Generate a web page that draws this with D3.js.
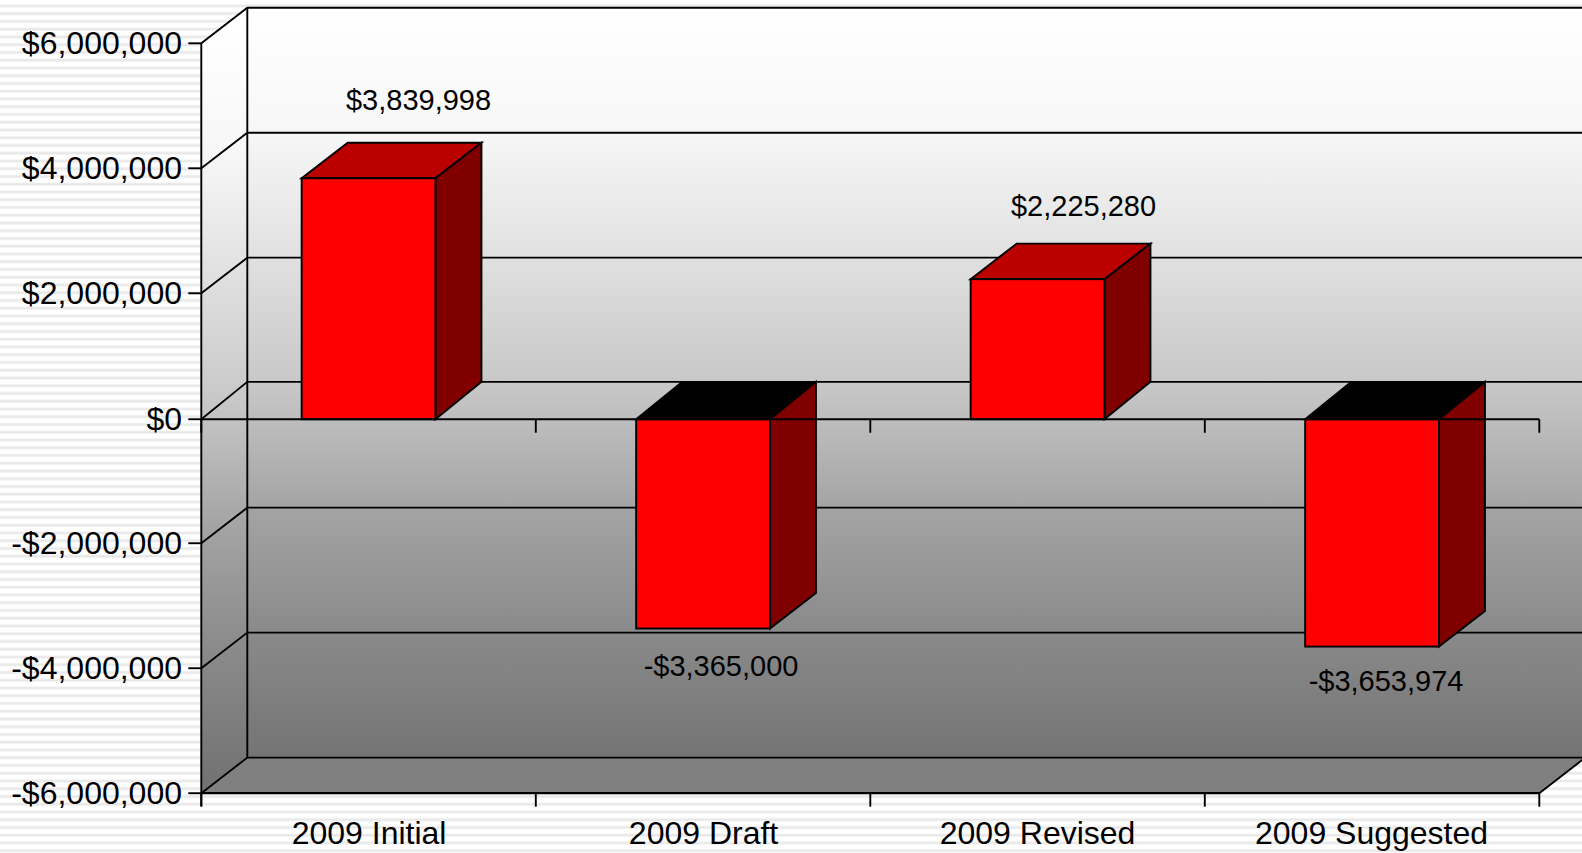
<!DOCTYPE html>
<html><head><meta charset="utf-8">
<style>html,body{margin:0;padding:0;background:#fff;overflow:hidden}svg{display:block}
text{font-family:"Liberation Sans",Arial,sans-serif;fill:#000}</style>
<script src="https://cdn.jsdelivr.net/npm/d3@7"></script></head><body><svg id="c" width="1582" height="853"></svg>
<script>
const categories = ["2009 Initial","2009 Draft","2009 Revised","2009 Suggested"];
const values = [3839998,-3365000,2225280,-3653974];
const valueLabels = ["$3,839,998","-$3,365,000","$2,225,280","-$3,653,974"];
const yTicks = [6000000,4000000,2000000,0,-2000000,-4000000,-6000000];

const W=1582,H=853, dx=46, dy=35.6;
const svg=d3.select("#c");
const y=d3.scaleLinear().domain([-6000000,6000000]).range([793.2,43.3]);
const x=d3.scaleBand().domain(categories).range([201.3,1539.3]).paddingInner(.6).paddingOuter(.3);
const fmt=v=>(v<0?"-":"")+"$"+d3.format(",")(Math.abs(v));
const yFront=v=>v===0?y(0)+1:y(v);
const yBack=v=>v===0?y(0)-dy-0.8:y(v)-dy;
const defs=svg.append("defs");
const pat=defs.append("pattern").attr("id","st").attr("patternUnits","userSpaceOnUse").attr("width",8).attr("height",7.75);
pat.append("rect").attr("width",8).attr("height",7.75).attr("fill","#fff");
pat.append("rect").attr("y",4).attr("width",8).attr("height",4).attr("fill","#f7f7f7");
pat.append("rect").attr("y",5).attr("width",8).attr("height",2).attr("fill","#e8e8e8");
const stops=[[0,"#ffffff"],[.167,"#f7f7f7"],[.333,"#e0e0e0"],[.5,"#c8c8c8"],[.667,"#a4a4a4"],[.833,"#8a8a8a"],[1,"#747474"]];
const grad=(id,y1,y2)=>{const g=defs.append("linearGradient").attr("id",id).attr("gradientUnits","userSpaceOnUse").attr("x1",0).attr("x2",0).attr("y1",y1).attr("y2",y2);
 stops.forEach(s=>g.append("stop").attr("offset",s[0]).attr("stop-color",s[1]));};
grad("wall",y(6e6)-dy,y(-6e6)-dy);
grad("side",y(6e6)-dy/2,y(-6e6)-dy/2);
svg.append("rect").attr("width",W).attr("height",H).attr("fill","url(#st)");
const line=d3.line();
const stroke=(s,w=1.9)=>s.attr("stroke","#000").attr("stroke-width",w);
const x0=x.range()[0],x1=x.range()[1],yT=y(6e6),yB=y(-6e6);
// walls
svg.append("path").attr("d",line([[x0,yT],[x0+dx,yT-dy],[x0+dx,yB-dy],[x0,yB]])+"Z").attr("fill","url(#side)");
svg.append("rect").attr("x",x0+dx).attr("y",yT-dy).attr("width",W-x0-dx).attr("height",yB-yT).attr("fill","url(#wall)");
svg.append("path").attr("d",line([[x0,yB],[x0+dx,yB-dy],[x1+dx,yB-dy],[x1,yB]])+"Z").attr("fill","#808080");
// grid
yTicks.forEach(t=>{
 stroke(svg.append("path").attr("fill","none").attr("d",line([[x0,yFront(t)],[x0+dx,yBack(t)],[W,yBack(t)]])));
});
stroke(svg.append("path").attr("fill","none").attr("d",line([[x0+dx,yT-dy],[x0+dx,yB-dy]])));
stroke(svg.append("path").attr("fill","none").attr("d",line([[x1,yB],[x1+dx,yB-dy]])));
// bars
categories.forEach((c,i)=>{
 const v=values[i],l=x(c),r=l+x.bandwidth();
 const hi=Math.max(v,0),lo=Math.min(v,0);
 const t=yFront(hi),b=yFront(lo),tb=yBack(hi),bb=yBack(lo);
 const g=svg.append("g");
 stroke(g.append("path").attr("fill",v>=0?"#bb0000":"#000").attr("d",line([[l,t],[l+dx,tb],[r+dx,tb],[r,t]])+"Z"));
 stroke(g.append("path").attr("fill","#800000").attr("d",line([[r,t],[r+dx,tb],[r+dx,bb],[r,b]])+"Z"));
 stroke(g.append("rect").attr("x",l).attr("y",t).attr("width",r-l).attr("height",b-t).attr("fill","#f00"));
});
// axes
stroke(svg.append("path").attr("fill","none").attr("d",line([[x0,yT],[x0,yB+13]])));
stroke(svg.append("path").attr("fill","none").attr("d",line([[x0,yFront(0)],[x1,yFront(0)]])));
stroke(svg.append("path").attr("fill","none").attr("d",line([[x0,yB],[x1,yB]])),2.2);
const steps=d3.range(categories.length+1).map(i=>x0+i*x.step());
steps.forEach(px=>{
 [yFront(0),yB].forEach(py=>stroke(svg.append("path").attr("fill","none").attr("d",line([[px,py],[px,py+13.5]]))));
});
yTicks.forEach(t=>{
 stroke(svg.append("path").attr("fill","none").attr("d",line([[x0-13,yFront(t)],[x0,yFront(t)]])));
 svg.append("text").attr("x",182).attr("y",yFront(t)+11).attr("text-anchor","end").attr("font-size",32).text(fmt(t));
});
categories.forEach((c,i)=>{
 svg.append("text").attr("x",x(c)+x.bandwidth()/2+[0.5,0.5,0,-0.5][i]).attr("y",844).attr("text-anchor","middle").attr("font-size",32).text(c);
});
const labelNudge=[[50,-68],[18,47.5],[46,-63],[14,44.5]];
categories.forEach((c,i)=>{
 const v=values[i];
 svg.append("text").attr("x",x(c)+x.bandwidth()/2+labelNudge[i][0]).attr("y",y(v)+labelNudge[i][1]).attr("text-anchor","middle").attr("font-size",29).text(valueLabels[i]);
});
</script></body></html>
